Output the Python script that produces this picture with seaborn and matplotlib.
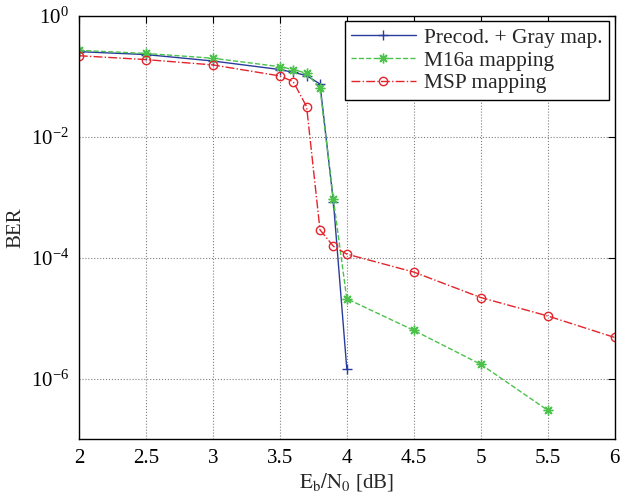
import numpy as np
import pandas as pd
import seaborn as sns
import matplotlib.pyplot as plt
from matplotlib.ticker import NullLocator

# Eb/N0 points (dB)
ebn0_gray = [2, 2.5, 3, 3.5, 3.6, 3.7, 3.8, 3.9, 4]
ebn0_m16a = [2, 2.5, 3, 3.5, 3.6, 3.7, 3.8, 3.9, 4, 4.5, 5, 5.5]
ebn0_msp = [2, 2.5, 3, 3.5, 3.6, 3.7, 3.8, 3.9, 4, 4.5, 5, 5.5, 6]

# BER values
ber_gray = [0.257, 0.23, 0.18, 0.13, 0.117, 0.103, 0.075, 8.5e-4, 1.47e-6]
ber_m16a = [0.27, 0.24, 0.20, 0.145, 0.13, 0.113, 0.064, 9.3e-4, 2.1e-5,
            6.3e-6, 1.73e-6, 3.0e-7]
ber_msp = [0.22, 0.19, 0.155, 0.102, 0.082, 0.0317, 2.9e-4, 1.55e-4, 1.15e-4,
           5.8e-5, 2.2e-5, 1.09e-5, 4.8e-6]

labels = ['Precod. + Gray map.', 'M16a mapping', 'MSP mapping']
yticks = [1e-6, 1e-4, 1e-2, 1]

sns.set_style('white')
plt.rcParams['font.family'] = ['Liberation Serif', 'DejaVu Serif']
plt.rcParams['mathtext.fontset'] = 'stix'

fig = plt.figure(figsize=(6.41, 4.99), dpi=100)
ax = fig.add_axes([0.123, 0.12, 0.836, 0.848])

# matlab-like asterisk: + and x together
asterisk = (8, 2, 0)
series = [
    (ebn0_gray, ber_gray, labels[0], '#2a3c9c', '-', '+', 'full', 7),
    (ebn0_m16a, ber_m16a, labels[1], '#4cc24c', '--', asterisk, 'full', 7),
    (ebn0_msp, ber_msp, labels[2], '#e3242b', '-.', 'o', 'none', 6),
]
for xs, ys, lab, col, ls, mk, fill, ms in series:
    df = pd.DataFrame({'x': xs, 'y': ys})
    sns.lineplot(data=df, x='x', y='y', ax=ax, color=col, linestyle=ls,
                 marker=mk, markersize=ms, fillstyle=fill, markeredgecolor=col,
                 markeredgewidth=1.0, linewidth=1.0, label=lab)

ax.set_yscale('log')
ax.set_xlim(2, 6)
ax.set_ylim(1e-7, 1)
ax.set_xticks(np.arange(2, 6.01, 0.5))
ax.set_xticklabels(['2', '2.5', '3', '3.5', '4', '4.5', '5', '5.5', '6'])
ax.set_yticks(yticks)
ax.yaxis.set_minor_locator(NullLocator())

ax.grid(True, linestyle=':', color='#808080', linewidth=0.8)
ax.tick_params(direction='in', length=5, width=0.8, top=True, right=True,
               labelsize=15, colors='black', pad=7)
for sp in ax.spines.values():
    sp.set_color('black')
    sp.set_linewidth(1.0)

ax.set_xlabel(r'$\mathrm{E_b/N_0}$ [dB]', fontsize=15, labelpad=2)
ax.set_ylabel('BER', fontsize=15, labelpad=4)

leg = ax.legend(loc='upper right', fontsize=15.5, frameon=True, fancybox=False,
                framealpha=1, edgecolor='black', handlelength=3.0,
                borderpad=0.3, labelspacing=0.12, handletextpad=0.4,
                borderaxespad=0.25)
leg.get_frame().set_linewidth(1.0)

fig.savefig('out.png', dpi=100)
